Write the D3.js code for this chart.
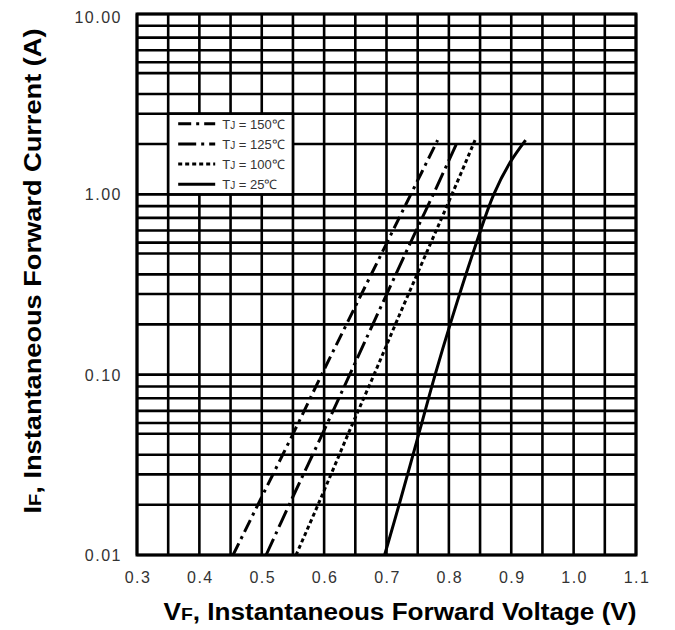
<!DOCTYPE html>
<html>
<head>
<meta charset="utf-8">
<script src="https://cdn.jsdelivr.net/npm/d3@7"></script>
<style>
  body { margin: 0; background: #fff; }
  text { font-family: Arial, "Liberation Sans", sans-serif; }
</style>
</head>
<body>
<svg id="chart"></svg>
<script>
// ---- data ----
const currents = [0.01, 0.02, 0.05, 0.1, 0.2, 0.5, 1.0, 2.0];
const vf150 = [0.454, 0.497, 0.554, 0.596, 0.639, 0.696, 0.739, 0.782];
const vf125 = [0.507, 0.547, 0.601, 0.641, 0.681, 0.734, 0.775, 0.815];
const vf100 = [0.555, 0.593, 0.642, 0.680, 0.717, 0.767, 0.805, 0.842];
const currents25 = [0.01, 0.02, 0.05, 0.1, 0.2, 0.5, 1.0, 1.5, 2.0];
const vf25 = [0.697, 0.722, 0.754, 0.778, 0.804, 0.841, 0.872, 0.898, 0.923];

const seriesNames = ['150', '125', '100', '25'];
const xTicks = [0.3, 0.4, 0.5, 0.6, 0.7, 0.8, 0.9, 1.0, 1.1];
const yTicks = [0.01, 0.1, 1, 10];
const yTickLabels = ['0.01', '0.10', '1.00', '10.00'];
// minor gridlines inside each decade (they are not at 2..9 in the source)
const gridMultipliers = [1.9, 2.8, 3.6, 4.7, 5.4, 6.3, 7.4, 8.6];

class ForwardChart {

  constructor(_config) {
    this.config = {
      parentElement: _config.parentElement,
      containerWidth: _config.containerWidth || 675,
      containerHeight: _config.containerHeight || 630,
      margin: _config.margin || { top: 14, right: 39, bottom: 75, left: 137 }
    };
    this.initVis();
  }

  initVis() {
    let vis = this;

    vis.width = vis.config.containerWidth - vis.config.margin.left - vis.config.margin.right;
    vis.height = vis.config.containerHeight - vis.config.margin.top - vis.config.margin.bottom;

    vis.xScale = d3.scaleLinear().domain([0.3, 1.1]).range([0, vis.width]);
    vis.yScale = d3.scaleLog().domain([0.01, 10]).range([vis.height, 0]);

    vis.svg = d3.select(vis.config.parentElement)
        .attr('width', vis.config.containerWidth)
        .attr('height', vis.config.containerHeight);

    vis.chart = vis.svg.append('g')
        .attr('transform', `translate(${vis.config.margin.left},${vis.config.margin.top})`);

    vis.gridG = vis.chart.append('g').attr('class', 'grid');
    vis.legendG = vis.chart.append('g').attr('class', 'legend');
    vis.linesG = vis.chart.append('g').attr('class', 'lines');
  }

  renderVis() {
    let vis = this;

    // vertical grid every 0.05 V
    const vLines = d3.range(0, 17).map(i => 0.3 + i * 0.05);
    vis.gridG.selectAll('.vgrid')
      .data(vLines)
      .join('line')
        .attr('class', 'vgrid')
        .attr('x1', d => vis.xScale(d)).attr('x2', d => vis.xScale(d))
        .attr('y1', 0).attr('y2', vis.height)
        .attr('stroke', '#000').attr('stroke-width', 2.6);

    // horizontal grid: decades + minor lines
    const hLines = [];
    [0.01, 0.1, 1].forEach(dec => {
      hLines.push(dec);
      gridMultipliers.forEach(m => hLines.push(dec * m));
    });
    hLines.push(10);
    vis.gridG.selectAll('.hgrid')
      .data(hLines)
      .join('line')
        .attr('class', 'hgrid')
        .attr('x1', 0).attr('x2', vis.width)
        .attr('y1', d => vis.yScale(d)).attr('y2', d => vis.yScale(d))
        .attr('stroke', '#000').attr('stroke-width', 2.6);

    vis.gridG.append('rect')
        .attr('width', vis.width).attr('height', vis.height)
        .attr('fill', 'none').attr('stroke', '#000').attr('stroke-width', 3);

    // tick labels
    vis.chart.selectAll('.xlab')
      .data(xTicks)
      .join('text')
        .attr('class', 'xlab')
        .attr('x', d => vis.xScale(d) + 1)
        .attr('y', vis.height + 28)
        .attr('text-anchor', 'middle')
        .attr('font-size', 16).attr('letter-spacing', 1.5)
        .attr('fill', '#333')
        .text(d => d.toFixed(1));

    vis.chart.selectAll('.ylab')
      .data(yTicks)
      .join('text')
        .attr('class', 'ylab')
        .attr('x', -15)
        .attr('y', (d, i) => vis.yScale(d) + (i === 3 ? 9 : 6))
        .attr('text-anchor', 'end')
        .attr('font-size', 16).attr('letter-spacing', 1.5)
        .attr('fill', '#333')
        .text((d, i) => yTickLabels[i]);

    // curves
    const series = [
      { name: '150', dash: '13,5,3,5', pts: currents.map((c, i) => [vf150[i], c]) },
      { name: '125', dash: '18,5,3,5', pts: currents.map((c, i) => [vf125[i], c]) },
      { name: '100', dash: '4,3', pts: currents.map((c, i) => [vf100[i], c]) },
      { name: '25', dash: null, pts: currents25.map((c, i) => [vf25[i], c]) }
    ];

    const line = d3.line()
        .x(d => vis.xScale(d[0]))
        .y(d => vis.yScale(d[1]))
        .curve(d3.curveCatmullRom);

    vis.linesG.selectAll('path')
      .data(series)
      .join('path')
        .attr('d', d => line(d.pts))
        .attr('fill', 'none')
        .attr('stroke', '#000')
        .attr('stroke-width', 3)
        .attr('stroke-dasharray', d => d.dash);

    // legend box, edges on the grid
    const lx0 = vis.xScale(0.35), lx1 = vis.xScale(0.55);
    const ly0 = vis.yScale(2.8), ly1 = vis.yScale(1);
    vis.legendG.append('rect')
        .attr('x', lx0).attr('y', ly0)
        .attr('width', lx1 - lx0).attr('height', ly1 - ly0)
        .attr('fill', '#fff').attr('stroke', '#000').attr('stroke-width', 2.6);

    const rowH = (ly1 - ly0) / 4;
    const rows = vis.legendG.selectAll('.lrow')
      .data(series)
      .join('g')
        .attr('class', 'lrow')
        .attr('transform', (d, i) => `translate(${lx0 + 10},${ly0 + rowH * (i + 0.5)})`);
    rows.append('line')
        .attr('x1', 0).attr('x2', 37)
        .attr('stroke', '#000').attr('stroke-width', 3)
        .attr('stroke-dasharray', d => d.dash);
    const lt = rows.append('text')
        .attr('x', 44).attr('y', 5)
        .attr('font-size', 13).attr('fill', '#333');
    lt.append('tspan').text('T');
    lt.append('tspan').attr('font-size', 10).text('J');
    lt.append('tspan').text(d => ` = ${d.name}\u2103`);

    // axis titles
    const xt = vis.svg.append('text')
        .attr('x', 400).attr('y', 620)
        .attr('text-anchor', 'middle')
        .attr('font-size', 23).attr('font-weight', 'bold')
        .attr('textLength', 473).attr('lengthAdjust', 'spacingAndGlyphs');
    xt.append('tspan').text('V');
    xt.append('tspan').attr('font-size', 17).text('F');
    xt.append('tspan').text(', Instantaneous Forward Voltage (V)');

    const yt = vis.svg.append('text')
        .attr('transform', 'translate(41,271) rotate(-90)')
        .attr('text-anchor', 'middle')
        .attr('font-size', 23).attr('font-weight', 'bold')
        .attr('textLength', 485).attr('lengthAdjust', 'spacingAndGlyphs');
    yt.append('tspan').text('I');
    yt.append('tspan').attr('font-size', 17).text('F');
    yt.append('tspan').text(', Instantaneous Forward Current (A)');
  }
}

const chart = new ForwardChart({ parentElement: '#chart' });
chart.renderVis();
</script>
</body>
</html>
